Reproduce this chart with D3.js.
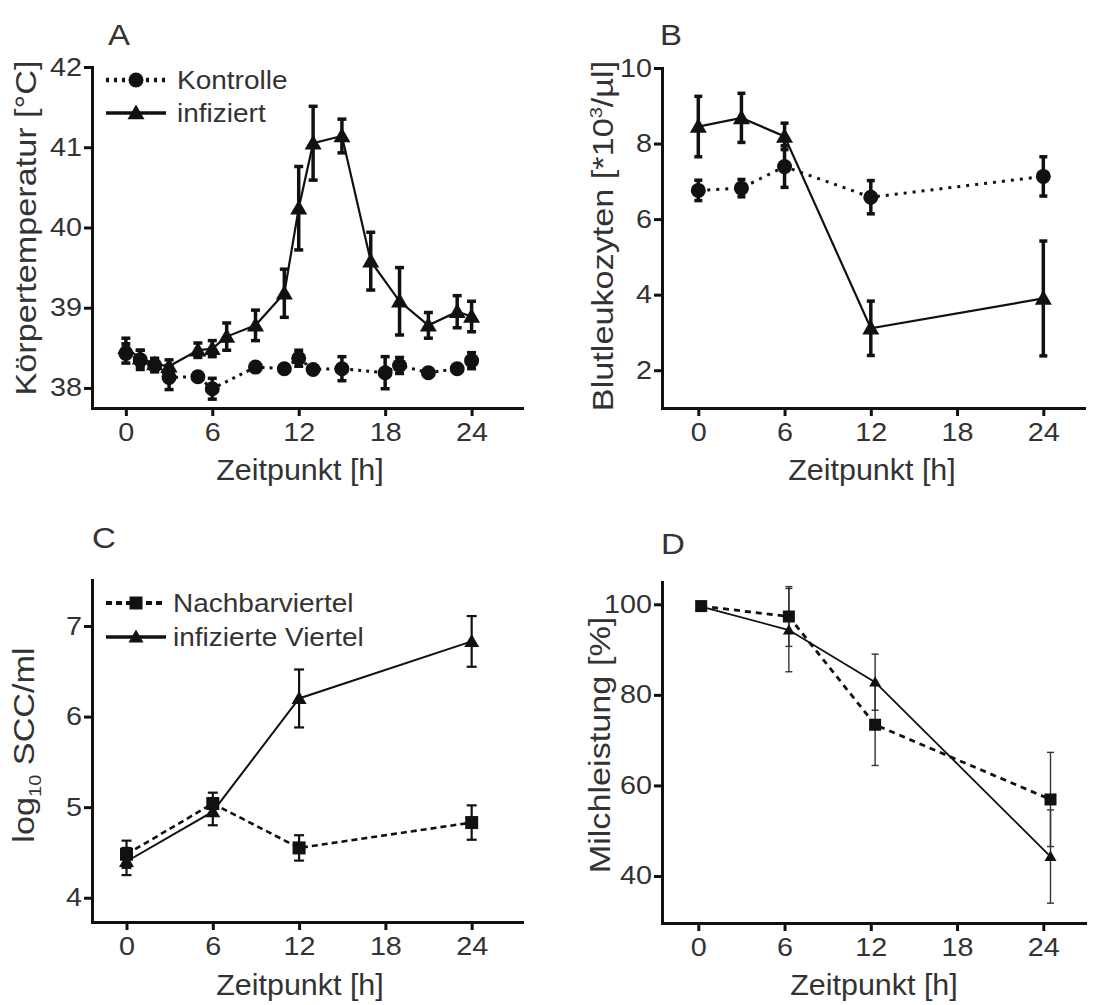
<!DOCTYPE html>
<html>
<head>
<meta charset="utf-8">
<script src="https://cdn.jsdelivr.net/npm/d3@7"></script>
<style>
  body { margin: 0; background: #fff; }
  text { font-family: "Liberation Sans", Arial, sans-serif; fill: #333; }
</style>
</head>
<body>
<svg id="chart" width="1119" height="1005"></svg>
<script>
// ---- Daten ----
const xTicks = [0, 6, 12, 18, 24];

// A: Körpertemperatur
const aTimeKontrolle = [0, 1, 2, 3, 5, 6, 9, 11, 12, 13, 15, 18, 19, 21, 23, 24];
const aMeanKontrolle = [38.43, 38.35, 38.28, 38.13, 38.14, 37.99, 38.26, 38.24, 38.37, 38.23, 38.24, 38.19, 38.28, 38.19, 38.24, 38.34];
const aSemKontrolle = [0.12, 0.12, 0.08, 0.15, 0.03, 0.13, 0.04, 0.03, 0.1, 0.03, 0.15, 0.2, 0.1, 0.03, 0.03, 0.1];
const aTimeInfiziert = [0, 1, 2, 3, 5, 6, 7, 9, 11, 12, 13, 15, 17, 19, 21, 23, 24];
const aMeanInfiziert = [38.5, 38.37, 38.3, 38.27, 38.47, 38.49, 38.64, 38.78, 39.18, 40.24, 41.05, 41.14, 39.58, 39.08, 38.78, 38.95, 38.89];
const aSemInfiziert = [0.12, 0.1, 0.07, 0.08, 0.09, 0.1, 0.17, 0.19, 0.3, 0.52, 0.46, 0.21, 0.36, 0.42, 0.16, 0.2, 0.19];
const aYTicks = [38, 39, 40, 41, 42];

// B: Blutleukozyten
const bTime = [0, 3, 6, 12, 24];
const bMeanKontrolle = [6.76, 6.82, 7.39, 6.58, 7.13];
const bSemKontrolle = [0.27, 0.23, 0.55, 0.44, 0.52];
const bMeanInfiziert = [8.45, 8.68, 8.19, 3.11, 3.9];
const bSemInfiziert = [0.8, 0.65, 0.35, 0.72, 1.52];
const bYTicks = [2, 4, 6, 8, 10];

// C: log10 SCC/ml
const cTime = [0, 6, 12, 24];
const cMeanNachbar = [4.48, 5.04, 4.55, 4.83];
const cSemNachbar = [0.15, 0.12, 0.14, 0.19];
const cMeanInfiziert = [4.4, 4.95, 6.2, 6.83];
const cSemInfiziert = [0.15, 0.15, 0.32, 0.28];
const cYTicks = [4, 5, 6, 7];

// D: Milchleistung
const dTime = [0.2, 6.3, 12.3, 24.5];
const dMeanNachbar = [99.6, 97.3, 73.4, 56.9];
const dSemNachbar = [0, 6.6, 9.0, 10.4];
const dMeanInfiziert = [99.5, 94.3, 82.8, 44.3];
const dSemInfiziert = [0, 9.2, 6.2, 10.3];
const dYTicks = [40, 60, 80, 100];

const zip = (t, m, s) => t.map((v, i) => ({ t: v, m: m[i], s: s[i] }));

// ---- Zeichnen ----
const svg = d3.select("#chart");
const STRETCH = 1.15; // Schrift im Original ist breiter als Arial

function label(g, x, y, str, size, anchor = "start", rot = 0, sx = STRETCH) {
    return g.append("text")
        .attr("transform", `translate(${x},${y}) rotate(${rot}) scale(${sx},1)`)
        .attr("text-anchor", anchor)
        .style("font-size", size + "px")
        .text(str);
}

function marker(g, shape, cx, cy, size) {
    if (shape === "circle") {
        g.append("circle").attr("cx", cx).attr("cy", cy).attr("r", size / 2).attr("fill", "#111");
    } else {
        const sym = shape === "triangle" ? d3.symbolTriangle : d3.symbolSquare;
        const area = shape === "triangle" ? Math.sqrt(3) / 4 * size * size : size * size;
        g.append("path")
            .attr("d", d3.symbol().type(sym).size(area)())
            .attr("transform", `translate(${cx},${cy + (shape === "triangle" ? size * 0.08 : 0)})`)
            .attr("fill", "#111");
    }
}

function drawPanel(cfg) {
    const g = svg.append("g");
    const x = d3.scaleLinear().domain(cfg.xDomain).range(cfg.xRange);
    const y = d3.scaleLinear().domain(cfg.yDomain).range(cfg.yRange);

    // Achsen
    const yAxis = g.append("g")
        .attr("transform", `translate(${cfg.xRange[0]},0)`)
        .call(d3.axisLeft(y).tickValues(cfg.yTicks).tickFormat(d3.format("d"))
            .tickSize(8).tickSizeOuter(0).tickPadding(2));
    yAxis.selectAll("text").attr("x", -10 / STRETCH).attr("transform", `scale(${STRETCH},1)`);

    const xAxis = g.append("g")
        .attr("transform", `translate(0,${cfg.yRange[0]})`)
        .call(d3.axisBottom(x).tickValues(xTicks).tickFormat(d3.format("d"))
            .tickSize(8).tickSizeOuter(0).tickPadding(7));
    xAxis.selectAll("text").attr("transform", `scale(${STRETCH},1)`);

    [yAxis, xAxis].forEach(ax => {
        ax.select(".domain").attr("stroke", "#111").attr("stroke-width", 3).attr("stroke-linecap", "square");
        ax.selectAll(".tick line").attr("stroke", "#111").attr("stroke-width", 3);
        ax.selectAll(".tick text")
            .style("font-size", "25px")
            .style("font-family", '"Liberation Sans", Arial, sans-serif')
            .attr("fill", "#3a3a3a");
    });

    // Beschriftung
    label(g, cfg.panelLabel[1], cfg.panelLabel[2], cfg.panelLabel[0], 30, "start", 0, 1.1);
    label(g, cfg.xTitlePos[0], cfg.xTitlePos[1], "Zeitpunkt [h]", 29, "middle", 0, 1.05);

    const yt = g.append("text")
        .attr("transform", `translate(${cfg.yTitlePos[0]},${cfg.yTitlePos[1]}) rotate(-90) scale(1.18,1)`)
        .attr("text-anchor", "middle")
        .style("font-size", "29px");
    cfg.yTitle.forEach(p => {
        const ts = yt.append("tspan").text(p.t);
        if (p.sub) ts.attr("dy", 7).style("font-size", "17px");
        if (p.sup) ts.attr("dy", -11).style("font-size", "17px");
        if (p.back) ts.attr("dy", p.back);
    });

    const line = d3.line().x(d => x(d.t)).y(d => y(d.m));

    cfg.series.forEach(s => {
        g.append("path")
            .datum(s.data)
            .attr("d", line)
            .attr("fill", "none")
            .attr("stroke", "#111")
            .attr("stroke-width", s.lineWidth)
            .attr("stroke-dasharray", s.dash || null);
    });

    cfg.series.forEach(s => {
        const eb = g.append("g").attr("stroke", s.errColor || "#111");
        s.data.filter(d => d.s > 0).forEach(d => {
            const cx = x(d.t);
            eb.append("line").attr("x1", cx).attr("x2", cx)
                .attr("y1", y(d.m - d.s)).attr("y2", y(d.m + d.s))
                .attr("stroke-width", s.errWidth);
            [d.m - d.s, d.m + d.s].forEach(v => {
                eb.append("line")
                    .attr("x1", cx - s.capW / 2).attr("x2", cx + s.capW / 2)
                    .attr("y1", y(v)).attr("y2", y(v))
                    .attr("stroke-width", s.errWidth);
            });
        });
    });

    cfg.series.forEach(s => {
        s.data.forEach(d => marker(g, s.shape, x(d.t), y(d.m), s.markerSize));
    });

    // Legende
    if (cfg.legend) {
        cfg.legend.items.forEach((it, i) => {
            const ly = cfg.legend.y + i * cfg.legend.dy;
            const s = cfg.series[it.series];
            g.append("line")
                .attr("x1", cfg.legend.x0).attr("x2", cfg.legend.x1)
                .attr("y1", ly).attr("y2", ly)
                .attr("stroke", "#111").attr("stroke-width", s.lineWidth + 1.5)
                .attr("stroke-dasharray", s.dash || null);
            marker(g, s.shape, (cfg.legend.x0 + cfg.legend.x1) / 2, ly, s.markerSize);
            label(g, cfg.legend.tx, ly + 9, it.name, 25, "start", 0, 1.12);
        });
    }
}

drawPanel({
    panelLabel: ["A", 108, 45],
    xDomain: [-2.35, 27.5], xRange: [92, 522],
    yDomain: [37.75, 42], yRange: [408, 67], yTicks: aYTicks,
    xTitlePos: [300, 480],
    yTitlePos: [36, 228],
    yTitle: [{ t: "Körpertemperatur [°C]" }],
    series: [
        { data: zip(aTimeKontrolle, aMeanKontrolle, aSemKontrolle), shape: "circle", markerSize: 15,
          lineWidth: 3, dash: "3,5", errWidth: 3.5, capW: 9 },
        { data: zip(aTimeInfiziert, aMeanInfiziert, aSemInfiziert), shape: "triangle", markerSize: 17,
          lineWidth: 2.2, errWidth: 3.5, capW: 9 }
    ],
    legend: { x0: 106, x1: 166, tx: 177, y: 80, dy: 33,
              items: [{ series: 0, name: "Kontrolle" }, { series: 1, name: "infiziert" }] }
});

drawPanel({
    panelLabel: ["B", 660, 45],
    xDomain: [-2.525, 26.83], xRange: [662, 1084],
    yDomain: [1, 10], yRange: [408, 68], yTicks: bYTicks,
    xTitlePos: [872, 480],
    yTitlePos: [613, 236],
    yTitle: [{ t: "Blutleukozyten [*10" }, { t: "3", sup: true }, { t: "/µl]", back: 11 }],
    series: [
        { data: zip(bTime, bMeanKontrolle, bSemKontrolle), shape: "circle", markerSize: 15,
          lineWidth: 3, dash: "3,6", errWidth: 3.5, capW: 8 },
        { data: zip(bTime, bMeanInfiziert, bSemInfiziert), shape: "triangle", markerSize: 17,
          lineWidth: 2.2, errWidth: 3.5, capW: 8 }
    ]
});

drawPanel({
    panelLabel: ["C", 92, 548],
    xDomain: [-2.4, 27.5], xRange: [92, 522],
    yDomain: [3.732, 7.508], yRange: [922, 580], yTicks: cYTicks,
    xTitlePos: [300, 995],
    yTitlePos: [34, 745],
    yTitle: [{ t: "log" }, { t: "10", sub: true }, { t: " SCC/ml", back: -7 }],
    series: [
        { data: zip(cTime, cMeanNachbar, cSemNachbar), shape: "square", markerSize: 13,
          lineWidth: 2.6, dash: "6,4", errWidth: 2.2, capW: 10 },
        { data: zip(cTime, cMeanInfiziert, cSemInfiziert), shape: "triangle", markerSize: 15,
          lineWidth: 2, errWidth: 2.2, capW: 10 }
    ],
    legend: { x0: 106, x1: 166, tx: 173, y: 603, dy: 34,
              items: [{ series: 0, name: "Nachbarviertel" }, { series: 1, name: "infizierte Viertel" }] }
});

drawPanel({
    panelLabel: ["D", 661, 554],
    xDomain: [-2.525, 26.9], xRange: [662, 1085],
    yDomain: [29.62, 104.92], yRange: [923, 582], yTicks: dYTicks,
    xTitlePos: [874, 995],
    yTitlePos: [610, 745],
    yTitle: [{ t: "Milchleistung [%]" }],
    series: [
        { data: zip(dTime, dMeanNachbar, dSemNachbar), shape: "square", markerSize: 12,
          lineWidth: 2.8, dash: "6,5", errWidth: 1.4, capW: 7, errColor: "#333" },
        { data: zip(dTime, dMeanInfiziert, dSemInfiziert), shape: "triangle", markerSize: 12,
          lineWidth: 1.8, errWidth: 1.4, capW: 7, errColor: "#333" }
    ]
});
</script>
</body>
</html>
